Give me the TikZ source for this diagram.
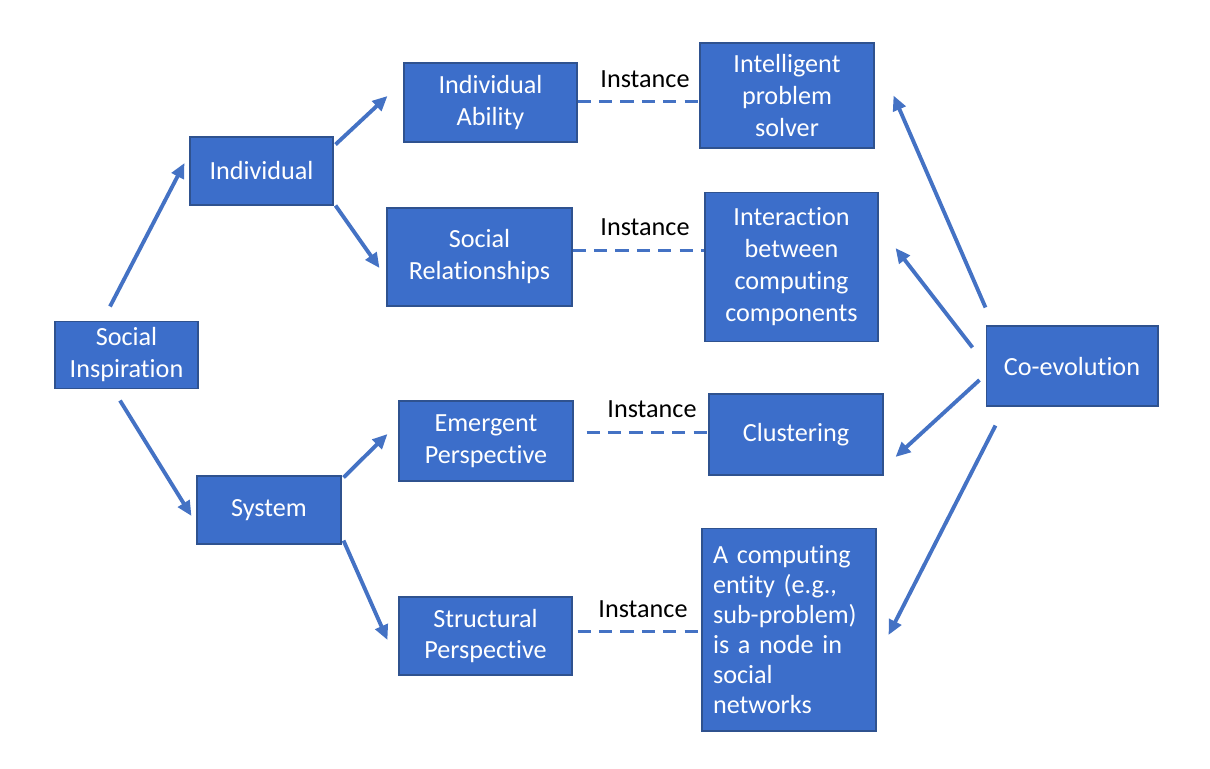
\documentclass[tikz,border=0pt]{standalone}
\usepackage{fontspec}
\setmainfont{Carlito}[Ligatures=NoCommon]
\usetikzlibrary{arrows.meta,calc}
\definecolor{boxfill}{RGB}{60,110,202}
\definecolor{boxline}{RGB}{47,82,143}
\definecolor{arr}{RGB}{68,114,196}
\begin{document}
\begin{tikzpicture}[x=0.02cm,y=-0.02cm,
 box/.style={draw=boxline,line width=0.6pt,fill=boxfill,text=white,font=\fontsize{14.9}{18.2}\selectfont,align=center,inner sep=0pt},
 link/.style={arr,line width=2.2pt,-{Triangle[length=8.5pt,width=7.5pt]}},
 inst/.style={arr,line width=1.7pt,dash pattern=on 7.5pt off 4.7pt},
 lbl/.style={font=\fontsize{14.9}{18}\selectfont,text=black,inner sep=0pt}]
\useasboundingbox (0,0) rectangle (1210,768);
% boxes
\node[box,minimum width=2.86cm,minimum height=1.34cm] (si) at (126.5,355) {Social\\Inspiration};
\node[box,minimum width=2.86cm,minimum height=1.36cm] (ind) at (261.5,171) {Individual};
\node[box,minimum width=2.88cm,minimum height=1.36cm] (sys) at (269,510) {System};
\node[box,minimum width=3.46cm,minimum height=1.58cm] (ia) at (490.5,102.5) {Individual\\Ability};
\node[box,minimum width=3.70cm,minimum height=1.96cm] (sr) at (479.5,257) {Social\\Relationships};
\node[box,minimum width=3.48cm,minimum height=1.60cm] (ep) at (486,441) {Emergent\\Perspective};
\node[box,minimum width=3.46cm,minimum height=1.56cm] (sp) at (485.5,636) {Structural\\Perspective};
\node[box,minimum width=3.48cm,minimum height=2.10cm] (ips) at (787,95.5) {Intelligent\\problem\\solver};
\node[box,minimum width=3.46cm,minimum height=2.98cm] (icc) at (791.5,267) {Interaction\\between\\computing\\components};
\node[box,minimum width=3.48cm,minimum height=1.62cm] (cl) at (796,434.5) {Clustering};
\node[box,minimum width=3.48cm,minimum height=4.06cm,text width=3.04cm,align=left,font=\fontsize{14.9}{17.1}\selectfont] (ce) at (789,629.5) {A computing\\entity (e.g.,\\sub-problem)\\is a node in\\social\\networks};
\node[box,minimum width=3.44cm,minimum height=1.60cm] (co) at (1072,366) {Co-evolution};
% arrows
\draw[link] ($(si.north)+(-16.5,-14.5)$) -- ($(ind.west)+(-5,-8)$);
\draw[link] ($(si.south)+(-6.5,11.5)$) -- ($(sys.west)+(-5,6)$);
\draw[link] ($(ind.north east)+(2,8)$) -- ($(ia.west)+(-16,-6.5)$);
\draw[link] ($(ind.south east)+(2,0)$) -- ($(sr.west)+(-7,11)$);
\draw[link] ($(sys.north east)+(2,2)$) -- ($(ep.west)+(-11,-7)$);
\draw[link] ($(sys.south east)+(2,-4)$) -- ($(sp.west)+(-11,4)$);
\draw[link] ($(co.north west)+(0,-18)$) -- ($(ips.east)+(19,0)$);
\draw[link] ($(co.north west)+(-13,22)$) -- ($(icc.east)+(17,-19)$);
\draw[link] ($(co.west)+(-6,14)$) -- ($(cl.east)+(12,22.5)$);
\draw[link] ($(co.south west)+(10,19)$) -- ($(ce.east)+(12,5.5)$);
% instance lines
\draw[inst] ($(ia.east)+(0,-1)$) -- ($(ia.east -| ips.west)+(0,-1)$);
\draw[inst] ($(sr.east)+(0,-7)$) -- ($(sr.east -| icc.west)+(0,-7)$);
\draw[inst] ($(ep.east)+(13,-9)$) -- ($(ep.east -| cl.west)+(0,-9)$);
\draw[inst] ($(sp.east)+(5,-5)$) -- ($(sp.east -| ce.west)+(0,-5)$);
\node[lbl] (l1) at (645,79) {Instance};
\node[lbl] (l2) at (645,227) {Instance};
\node[lbl] (l3) at (652,409) {Instance};
\node[lbl] (l4) at (643,609) {Instance};
\end{tikzpicture}
\end{document}
